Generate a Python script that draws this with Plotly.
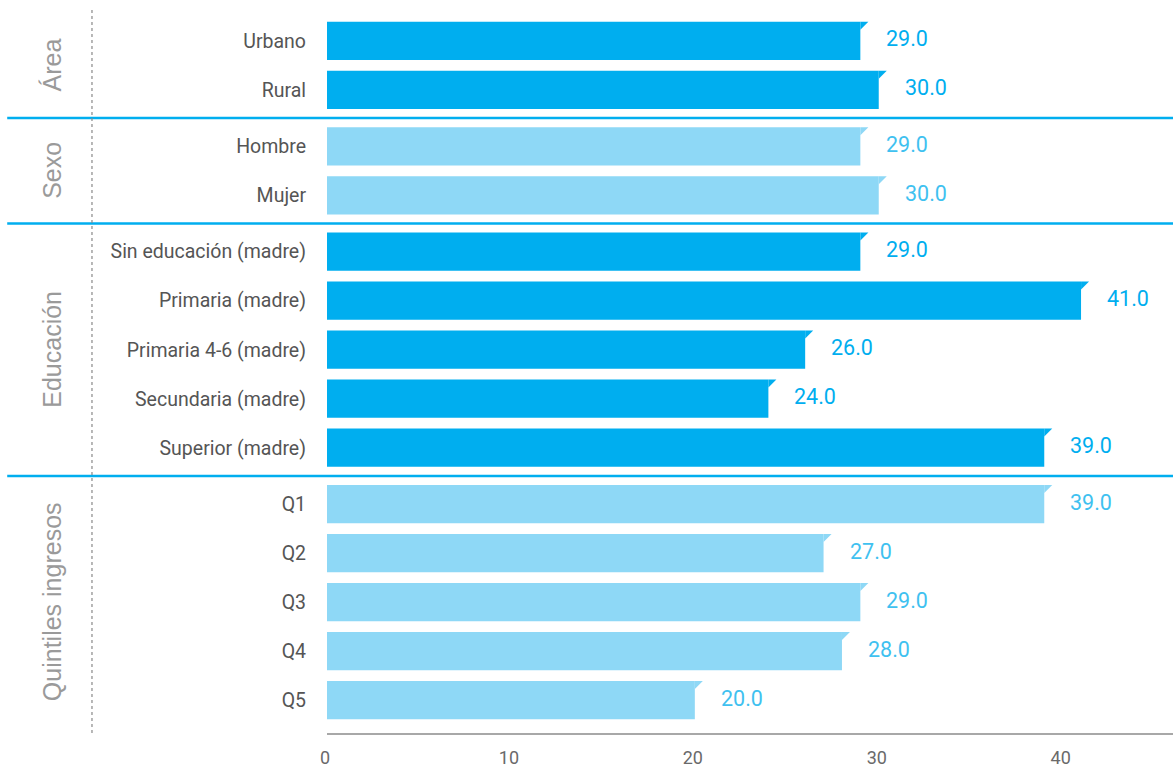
import plotly.graph_objects as go

groups = ["Área", "Sexo", "Educación", "Quintiles ingresos"]
group_members = [
    ["Urbano", "Rural"],
    ["Hombre", "Mujer"],
    ["Sin educación (madre)", "Primaria (madre)", "Primaria 4-6 (madre)",
     "Secundaria (madre)", "Superior (madre)"],
    ["Q1", "Q2", "Q3", "Q4", "Q5"],
]
group_values = [
    [29.0, 30.0],
    [29.0, 30.0],
    [29.0, 41.0, 26.0, 24.0, 39.0],
    [39.0, 27.0, 29.0, 28.0, 20.0],
]
x_ticks = [0, 10, 20, 30, 40]

DARK = "#00AEEF"
LIGHT = "#8ED8F6"
DARK_TXT = "#00AEEF"
LIGHT_TXT = "#3FC1F0"
bar_colors = [DARK, LIGHT, DARK, LIGHT]
txt_colors = [DARK_TXT, LIGHT_TXT, DARK_TXT, LIGHT_TXT]

COND = "Roboto, sans-serif"
GAP = 0.15
BW = 0.78

cats, vals, pos, cols, tcols, gcenters, seps = [], [], [], [], [], [], []
p = 0.0
for gi, (mem, v) in enumerate(zip(group_members, group_values)):
    if gi > 0:
        seps.append(p - 0.5 + GAP / 2)
        p += GAP
    start = p
    for m, val in zip(mem, v):
        cats.append(m); vals.append(val); pos.append(p)
        cols.append(bar_colors[gi]); tcols.append(txt_colors[gi])
        p += 1
    gcenters.append((start + p - 1) / 2)
last = p - 1

fig = go.Figure(go.Bar(
    x=vals, y=pos, orientation="h", width=BW,
    marker=dict(color=cols, line=dict(width=0)),
    hoverinfo="skip",
))

anns, shapes = [], []
for c, v, y, tc, bc in zip(cats, vals, pos, tcols, cols):
    anns.append(dict(x=v, y=y, xref="x", yref="y", text=f"{v:.1f}",
                     xanchor="left", yanchor="middle", xshift=24, yshift=2,
                     showarrow=False, font=dict(family=COND, size=21.5, color=tc)))
    shapes.append(dict(type="path", xref="x", yref="y",
                       xsizemode="pixel", ysizemode="pixel",
                       xanchor=v, yanchor=y - BW / 2,
                       path="M0,0 L8,0 L0,-8 Z",
                       fillcolor=bc, line=dict(width=0)))

for g, gc in zip(groups, gcenters):
    anns.append(dict(x=-0.325, y=gc, xref="paper", yref="y", text=g,
                     textangle=-90, showarrow=False, xanchor="center", yanchor="middle",
                     font=dict(family="Liberation Sans, Arial, sans-serif", size=25, color="#9a9a9a")))

for s in seps:
    shapes.append(dict(type="line", xref="paper", yref="y", x0=-0.378, x1=1.0,
                       y0=s, y1=s, line=dict(color=DARK, width=2.5)))

shapes.append(dict(type="line", xref="paper", yref="paper", x0=-0.2778, x1=-0.2778,
                   y0=0, y1=1, line=dict(color="#888888", width=1.2, dash="dot")))

fig.update_layout(
    width=1173, height=772,
    margin=dict(l=327, r=0, t=10, b=39),
    paper_bgcolor="white", plot_bgcolor="white",
    showlegend=False,
    annotations=anns, shapes=shapes,
    xaxis=dict(range=[0, 46], tickvals=x_ticks, ticktext=[str(t) for t in x_ticks],
               showgrid=False, zeroline=False, showline=True, linecolor="#a8a8a8",
               linewidth=2, ticks="", ticklabelstandoff=7, ticklabelshift=-2,
               tickfont=dict(family=COND, size=18, color="#6a6a6a")),
    yaxis=dict(range=[last + 0.67, -0.63], tickvals=pos, ticktext=cats,
               showgrid=False, zeroline=False, showline=False, ticks="",
               ticklabelstandoff=20,
               tickfont=dict(family=COND, size=19.5, color="#555555")),
)

fig.write_html("out.html", config={"displayModeBar": False},
               post_script="document.body.style.margin='0';document.body.style.overflow='hidden';")
